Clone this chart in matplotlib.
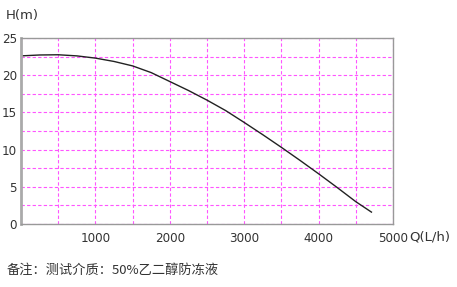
import matplotlib
matplotlib.use("Agg")
import matplotlib.pyplot as plt
from matplotlib.ticker import MultipleLocator

plt.rcParams['font.family'] = ['Noto Sans CJK SC', 'DejaVu Sans']

# Pump curve values
flow = [0, 250, 500, 750, 1000, 1250, 1500, 1750, 2000, 2250, 2500, 2750,
        3000, 3250, 3500, 3750, 4000, 4250, 4500, 4710]
head = [22.6, 22.72, 22.75, 22.6, 22.3, 21.85, 21.25, 20.35, 19.15, 17.95, 16.65, 15.25,
        13.65, 12.0, 10.3, 8.55, 6.75, 4.9, 3.0, 1.6]

x_ticks = [1000, 2000, 3000, 4000, 5000]
y_ticks = [0, 5, 10, 15, 20, 25]

fig = plt.figure(figsize=(4.57, 2.87), dpi=100)
ax = fig.add_axes([0.046, 0.2195, 0.814, 0.648])

ax.plot(flow, head, color='#222222', lw=1.0)

ax.set_xlim(0, 5000)
ax.set_ylim(0, 25)
ax.xaxis.set_minor_locator(MultipleLocator(500))
ax.yaxis.set_minor_locator(MultipleLocator(2.5))
ax.set_xticks(x_ticks)
ax.set_yticks(y_ticks)
ax.grid(which='both', color='#ff55ff', linestyle=(0, (3, 2)), lw=0.8)
ax.tick_params(which='both', length=0, colors='#333333', labelsize=9.5)
ax.tick_params(axis='x', pad=6)
ax.tick_params(axis='y', pad=3)
for lbl in ax.get_xticklabels() + ax.get_yticklabels():
    lbl.set_fontfamily('DejaVu Sans')
    lbl.set_fontstretch('condensed')

for side in ['top', 'right', 'bottom']:
    ax.spines[side].set_color('#999999')
    ax.spines[side].set_linewidth(1.0)
ax.spines['left'].set_color('#aaaaaa')
ax.spines['left'].set_linewidth(2.0)

fig.text(0.012, 0.945, 'H(m)', fontsize=9.5, color='#333333', va='center', family='DejaVu Sans')
fig.text(0.895, 0.175, 'Q(L/h)', fontsize=9.5, color='#333333', va='center', family='DejaVu Sans')
fig.text(0.015, 0.06, '备注：测试介质：50%乙二醇防冻液', fontsize=9.5, color='#333333', va='center')

fig.savefig('out.png', dpi=100)
